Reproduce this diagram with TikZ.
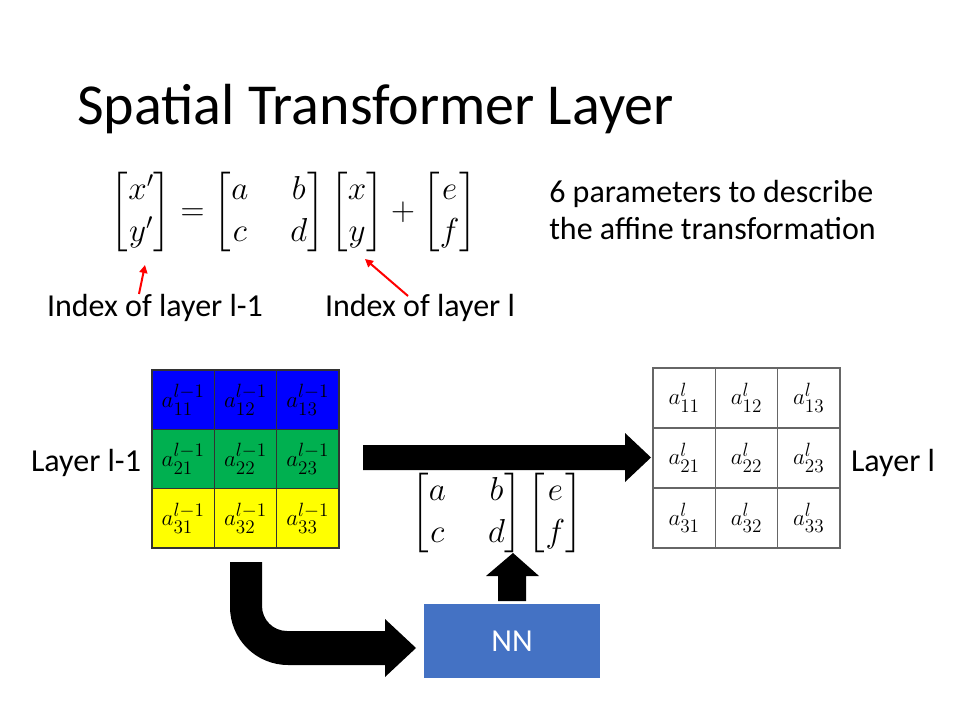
\documentclass[tikz,border=0pt]{standalone}
\usepackage{amsmath}
\usepackage{fontspec}
\setmainfont{Carlito}
\usetikzlibrary{arrows.meta}
\definecolor{cellblue}{RGB}{0,0,255}
\definecolor{cellgreen}{RGB}{0,176,80}
\definecolor{cellyellow}{RGB}{255,255,0}
\definecolor{nnblue}{RGB}{68,114,196}
\begin{document}
\begin{tikzpicture}[x=0.75pt,y=-0.75pt,
  bodytext/.style={font=\fontsize{24}{29}\selectfont, inner sep=0pt},
  bigmath/.style={font=\fontsize{27}{32}\selectfont, inner sep=0pt},
  cellA/.style={draw=black!80, line width=0.9pt, minimum width=62.3*0.75pt, minimum height=59.3*0.75pt, inner sep=0pt, font=\fontsize{19}{22}\selectfont},
  cellB/.style={draw=black!60, line width=0.9pt, minimum width=62.3*0.75pt, minimum height=60*0.75pt, inner sep=0pt, font=\fontsize{19}{22}\selectfont},
  pointer/.style={draw=red, line width=1.5pt, -{Triangle[length=6pt,width=6pt]}},
  block/.style={fill=black}
]
\useasboundingbox (0,0) rectangle (960,720);
\fill[white] (0,0) rectangle (960,720);

% title
\node[anchor=base west, inner sep=0pt, font=\fontsize{43.5}{52}\selectfont] (title) at (77,125) {Spatial Transformer Layer};

% affine transformation
\node[bigmath] (eq) at (294,212) {$\begin{bmatrix} x' \\ y' \end{bmatrix} = \begin{bmatrix} a & \hspace{0.8em} b \\ c & \hspace{0.8em} d \end{bmatrix} \begin{bmatrix} x \\ y \end{bmatrix} + \begin{bmatrix} e \\ f \end{bmatrix}$};
\node[bodytext, anchor=base west] (params1) at (549,203) {6 parameters to describe};
\node[bodytext, anchor=base west] (params2) at (549,240) {the affine transformation};

\node[bodytext, anchor=base] (idxA) at (155,316) {Index of layer l-1};
\node[bodytext, anchor=base] (idxB) at (420,316) {Index of layer l};

\coordinate (pA) at (139,294);
\coordinate (hA) at (145,265);
\coordinate (pB) at (408,296);
\coordinate (hB) at (365,259);
\draw[pointer] (pA) -- (hA);
\draw[pointer] (pB) -- (hB);

% input grid
\foreach \r/\col in {1/cellblue,2/cellgreen,3/cellyellow}{
  \foreach \c in {1,2,3}{
    \node[cellA, fill=\col] (in\r\c) at ({152+62.3*(\c-0.5)},{370+59.3*(\r-0.5)}) {$a^{l-1}_{\r\c}$};
  }
}
\node[bodytext] (layerIn) at (86,463) {Layer l-1};

% output grid
\foreach \r in {1,2,3}{
  \foreach \c in {1,2,3}{
    \node[cellB] (out\r\c) at ({653+62.3*(\c-0.5)},{368+60*(\r-0.5)}) {$a^{l}_{\r\c}$};
  }
}
\node[bodytext] (layerOut) at (893,463) {Layer l};

% sampling arrow
\fill[block] (363,445) -- (625,445) -- (625,433) -- (651,457.5) -- (625,482) -- (625,470) -- (363,470) -- cycle;

% parameters produced by the network
\node[bigmath] (theta) at (497,513) {$\begin{bmatrix} a & \hspace{0.8em} b \\ c & \hspace{0.8em} d \end{bmatrix} \begin{bmatrix} e \\ f \end{bmatrix}$};

% localisation network
\node[fill=nnblue, text=white, minimum width=176*0.75pt, minimum height=74*0.75pt, font=\fontsize{24}{29}\selectfont] (nn) at (512,641) {NN};

% network output arrow
\fill[block] (498,601) -- (498,576) -- (486,576) -- (513,553) -- (539,576) -- (526,576) -- (526,601) -- cycle;

% input to network arrow
\fill[block] (230,562) -- (262,562) -- (262,606)
  .. controls (262,619.8) and (273.2,631) .. (287,631)
  -- (385,631) -- (385,619) -- (416,648) -- (385,677) -- (385,665) -- (288,665)
  .. controls (256,665) and (230,639) .. (230,607) -- cycle;
\end{tikzpicture}
\end{document}
